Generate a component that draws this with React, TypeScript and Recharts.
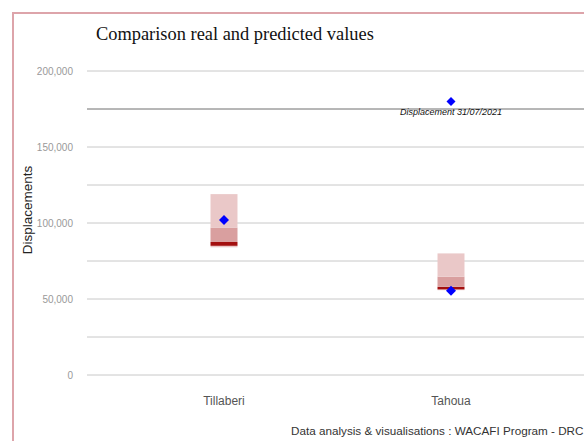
import React from "react";
import { ComposedChart, Bar, Scatter, XAxis, YAxis, CartesianGrid, ReferenceLine } from "recharts";

const categories = ["Tillaberi", "Tahoua"];
const outerLow = [84000, 55800];
const darkLow = [85000, 56300];
const darkHigh = [87500, 58000];
const innerHigh = [97000, 64700];
const outerHigh = [119000, 80000];
const realValues = [102000, 55500];
const annotationValues: (number | null)[] = [null, 180000];
const annotationLabels = ["", "Displacement 31/07/2021"];
const yTicks = [0, 25000, 50000, 75000, 100000, 125000, 150000, 175000, 200000];

const data = categories.map((name, i) => ({
  name,
  base: outerLow[i],
  lightLow: darkLow[i] - outerLow[i],
  dark: darkHigh[i] - darkLow[i],
  medium: innerHigh[i] - darkHigh[i],
  lightHigh: outerHigh[i] - innerHigh[i],
  real: realValues[i],
  annotation: annotationValues[i],
  annotationLabel: annotationLabels[i],
}));

const SANS = "'Liberation Sans', Arial, sans-serif";
const LIGHT = "#eac8c8";
const MEDIUM = "#d99f9f";
const DARK = "#a30f0f";

const diamondPath = (cx: number, cy: number, r: number) =>
  `M${cx},${cy - r}L${cx + r},${cy}L${cx},${cy + r}L${cx - r},${cy}Z`;

const RealShape = (props: any) => {
  const { cx, cy, payload } = props;
  if (payload == null || payload.real == null) return <g />;
  return <path d={diamondPath(cx, cy, 5)} fill="#0000ff" />;
};

const AnnotationShape = (props: any) => {
  const { cx, cy, payload } = props;
  if (payload == null || payload.annotation == null) return <g />;
  return (
    <g>
      <path d={diamondPath(cx, cy, 4.5)} fill="#0000ff" />
      <text
        x={cx}
        y={cy + 14}
        textAnchor="middle"
        fontSize={9}
        fontStyle="italic"
        fontFamily={SANS}
        fill="#111"
      >
        {payload.annotationLabel}
      </text>
    </g>
  );
};

export default function App() {
  return (
    <div
      style={{
        position: "fixed",
        left: 0,
        top: 0,
        width: 584,
        height: 441,
        overflow: "hidden",
        background: "#fff",
      }}
    >
      <div
        style={{
          position: "absolute",
          left: 12,
          top: 12,
          width: 800,
          height: 600,
          border: "2px solid #dda4aa",
          boxSizing: "border-box",
        }}
      />
      <div style={{ position: "absolute", left: 0, top: 0 }}>
        <ComposedChart
          width={760}
          height={441}
          data={data}
          margin={{ top: 71, right: 0, bottom: 36, left: 0 }}
        >
          <CartesianGrid vertical={false} stroke="#c8c8c8" />
          <ReferenceLine y={175000} stroke="#8a8a8a" />
          <XAxis
            dataKey="name"
            axisLine={false}
            tickLine={false}
            height={30}
            tickMargin={15}
            padding={{ left: 23.5, right: 195.5 }}
            tick={{ fill: "#555", fontSize: 12, fontFamily: SANS }}
          />
          <YAxis
            type="number"
            domain={[0, 200000]}
            ticks={yTicks}
            width={87}
            axisLine={false}
            tickLine={false}
            tickMargin={8}
            tick={{ fill: "#999", fontSize: 10, fontFamily: SANS }}
            tickFormatter={(v: number) => (v % 50000 === 0 ? v.toLocaleString("en-US") : "")}
          />
          <Bar dataKey="base" stackId="a" fill="transparent" barSize={27} isAnimationActive={false} />
          <Bar dataKey="lightLow" stackId="a" fill={LIGHT} barSize={27} isAnimationActive={false} />
          <Bar dataKey="dark" stackId="a" fill={DARK} barSize={27} isAnimationActive={false} />
          <Bar dataKey="medium" stackId="a" fill={MEDIUM} barSize={27} isAnimationActive={false} />
          <Bar dataKey="lightHigh" stackId="a" fill={LIGHT} barSize={27} isAnimationActive={false} />
          <Scatter dataKey="real" shape={RealShape} isAnimationActive={false} />
          <Scatter dataKey="annotation" shape={AnnotationShape} isAnimationActive={false} />
        </ComposedChart>
      </div>
      <div
        style={{
          position: "absolute",
          left: 96,
          top: 24,
          fontSize: 18.4,
          lineHeight: "20px",
          fontFamily: "'Liberation Serif', 'Times New Roman', serif",
          color: "#111",
          whiteSpace: "nowrap",
        }}
      >
        Comparison real and predicted values
      </div>
      <div
        style={{
          position: "absolute",
          left: 27.5,
          top: 210,
          transform: "translate(-50%, -50%) rotate(-90deg)",
          fontSize: 13.5,
          lineHeight: "16px",
          fontFamily: SANS,
          color: "#222",
          whiteSpace: "nowrap",
        }}
      >
        Displacements
      </div>
      <div
        style={{
          position: "absolute",
          left: 291,
          top: 424,
          fontSize: 11.7,
          lineHeight: "14px",
          fontFamily: SANS,
          color: "#333",
          whiteSpace: "nowrap",
        }}
      >
        Data analysis &amp; visualisations : WACAFI Program - DRC
      </div>
    </div>
  );
}
